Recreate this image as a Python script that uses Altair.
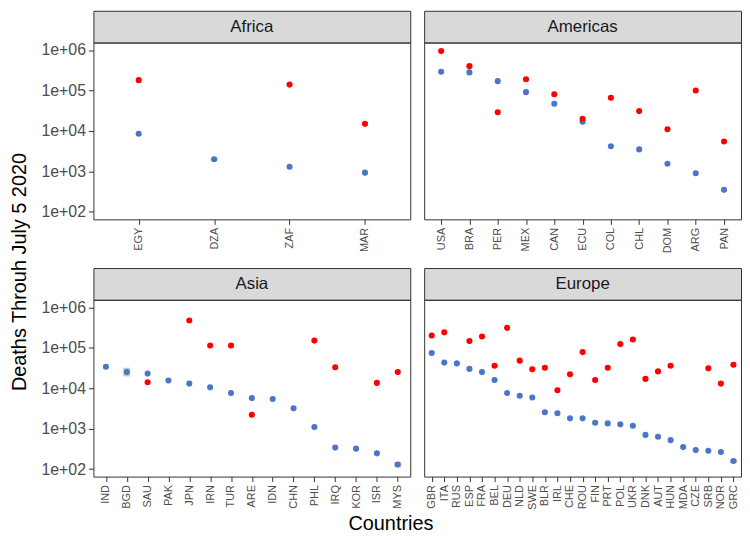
import altair as alt
import pandas as pd

# ---------------- data ----------------
africa = ["EGY", "DZA", "ZAF", "MAR"]
africa_blue = [8500, 2000, 1300, 930]
africa_red = [180000, None, 140000, 15000]

americas = ["USA", "BRA", "PER", "MEX", "CAN", "ECU", "COL", "CHL", "DOM", "ARG", "PAN"]
americas_blue = [290000, 280000, 170000, 91000, 47000, 17000, 4200, 3500, 1550, 900, 350]
americas_red = [940000, 400000, 29000, 190000, 81000, 20000, 66000, 31000, 11000, 100000, 5500]

asia = ["IND", "BGD", "SAU", "PAK", "JPN", "IRN", "TUR", "ARE", "IDN", "CHN", "PHL", "IRQ", "KOR", "ISR", "MYS"]
asia_blue = [34000, 25000, 23000, 15500, 13000, 10500, 7600, 5700, 5400, 3200, 1100, 340, 320, 245, 130]
asia_red = [None, None, 14000, None, 470000, 114000, 114000, 2200, None, None, 150000, 33000, None, 13500, 25000]

europe = ["GBR", "ITA", "RUS", "ESP", "FRA", "BEL", "DEU", "NLD", "SWE", "BLR", "IRL", "CHE", "ROU",
          "FIN", "PRT", "POL", "UKR", "DNK", "AUT", "HUN", "MDA", "CZE", "SRB", "NOR", "GRC"]
europe_blue = [74000, 43000, 41000, 30000, 25000, 16000, 7600, 6500, 5900, 2550, 2400, 1800, 1800,
               1400, 1350, 1280, 1180, 700, 630, 520, 350, 295, 285, 265, 158]
europe_red = [200000, 240000, None, 146000, 190000, 36000, 310000, 48000, 29500, 32000, 8900, 22000, 78000,
              16000, 32000, 123000, 160000, 17000, 26000, 36000, None, None, 31000, 13000, 38000]

# small grey interval bars behind some blue points
err_country = ["DZA", "BGD", "MYS", "GRC"]
err_lo = [1850, 19500, 110, 140]
err_hi = [2150, 32000, 150, 175]

y_ticks = [100, 1000, 10000, 100000, 1000000]

# ---------------- styling ----------------
FONT = "Liberation Sans"
W, H, SH = 319, 178, 32
BLUE = "#4a76c9"
RED = "#ff0000"

yscale = alt.Scale(type="log", domain=[65.3, 1.53e6], nice=False)


def panel(name, countries, blue, red, left):
    df = pd.DataFrame({"country": countries, "blue": blue, "red": red})
    if left:
        yaxis = alt.Axis(title=None, values=y_ticks,
                         labelExpr="'1e+0' + format(log(datum.value)/log(10), '.0f')",
                         labelFontSize=16, labelPadding=3)
    else:
        yaxis = None
    xenc = alt.X("country:N", sort=countries,
                 scale=alt.Scale(type="point", padding=0.6),
                 axis=alt.Axis(title=None, labelAngle=270, labelAlign="right",
                               labelBaseline="middle", labelFontSize=11, labelPadding=3))
    layers = []
    edf = pd.DataFrame({"country": err_country, "lo": err_lo, "hi": err_hi})
    edf = edf[edf["country"].isin(countries)]
    if len(edf):
        layers.append(
            alt.Chart(edf).mark_rule(color="#bdbdbd", strokeWidth=7, opacity=0.8).encode(
                x=xenc, y=alt.Y("lo:Q", scale=yscale, axis=yaxis), y2="hi:Q")
        )
    base = alt.Chart(df).encode(x=xenc)
    layers.append(base.mark_circle(size=38, color=BLUE, opacity=1).encode(
        y=alt.Y("blue:Q", scale=yscale, axis=yaxis)))
    layers.append(base.transform_filter("isValid(datum.red)").mark_circle(
        size=38, color=RED, opacity=1).encode(y=alt.Y("red:Q", scale=yscale, axis=yaxis)))
    plot = alt.layer(*layers).properties(width=W, height=H)

    strip = alt.Chart(pd.DataFrame({"region": [name]})).mark_text(
        fontSize=17, color="#1a1a1a", font=FONT).encode(
        x=alt.value(W / 2), y=alt.value(SH / 2), text="region:N"
    ).properties(width=W, height=SH,
                 view=alt.ViewBackground(fill="#d9d9d9", stroke="#333333", strokeWidth=1))
    return alt.vconcat(strip, plot, spacing=0, bounds="flush")


row1 = alt.hconcat(panel("Africa", africa, africa_blue, africa_red, True),
                   panel("Americas", americas, americas_blue, americas_red, False), spacing=12)
row2 = alt.hconcat(panel("Asia", asia, asia_blue, asia_red, True),
                   panel("Europe", europe, europe_blue, europe_red, False), spacing=12)

grid = alt.vconcat(row1, row2, spacing=13,
                   title=alt.TitleParams("Countries", orient="bottom", fontSize=20,
                                         fontWeight="normal", font=FONT, anchor="middle",
                                         color="#000000", offset=4))

chart = alt.hconcat(grid, padding={"left": 2, "top": 0, "right": 0, "bottom": 0},
                    title=alt.TitleParams("Deaths Throuh July 5 2020", orient="left", fontSize=20,
                                          fontWeight="normal", font=FONT, anchor="middle",
                                          color="#000000", offset=10)
                    ).configure(font=FONT, background="white"
                    ).configure_view(stroke="#333333", strokeWidth=1
                    ).configure_axis(grid=False, domain=False, tickColor="#333333", tickSize=5,
                                     tickWidth=1, labelColor="#4d4d4d", labelFont=FONT)

chart.save("out.html", embed_options={"renderer": "svg", "actions": False})
